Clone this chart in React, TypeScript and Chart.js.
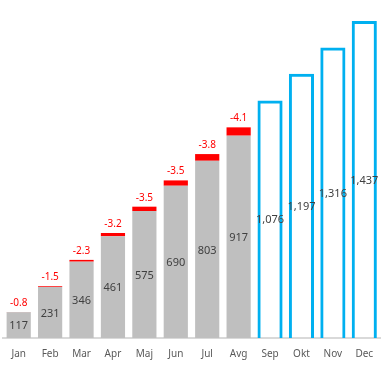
import React, { useEffect, useRef } from "react";
import { Chart, registerables } from "chart.js";

Chart.register(...registerables);

const categories = ["Jan", "Feb", "Mar", "Apr", "Maj", "Jun", "Jul", "Avg", "Sep", "Okt", "Nov", "Dec"];
const actualValues = [117, 231, 346, 461, 575, 690, 803, 917, null, null, null, null];
const variancePct = [-0.8, -1.5, -2.3, -3.2, -3.5, -3.5, -3.8, -4.1, null, null, null, null];
const forecastValues = [null, null, null, null, null, null, null, null, 1076, 1197, 1316, 1437];

const fmt = (v: number) => v.toLocaleString("en-US");

const labelPlugin = {
  id: "labels",
  afterDatasetsDraw(chart: any) {
    const ctx = chart.ctx;
    const g = chart.getDatasetMeta(0);
    const r = chart.getDatasetMeta(1);
    const b = chart.getDatasetMeta(2);
    ctx.save();
    ctx.textAlign = "center";
    ctx.textBaseline = "middle";
    categories.forEach((_, i) => {
      const a = actualValues[i];
      if (a != null) {
        const el = g.data[i];
        ctx.fillStyle = "#404040";
        ctx.font = "11px 'Noto Sans'";
        ctx.fillText(fmt(a), el.x, (el.y + el.base) / 2 + 1);
        const re = r.data[i];
        ctx.fillStyle = "#FF0000";
        ctx.font = "10px 'Noto Sans'";
        ctx.fillText(String(variancePct[i]), re.x, re.y - 9);
      }
      const f = forecastValues[i];
      if (f != null) {
        const el = b.data[i];
        ctx.fillStyle = "#404040";
        ctx.font = "11px 'Noto Sans'";
        ctx.fillText(fmt(f), el.x, (el.y + el.base) / 2 + 1);
      }
    });
    ctx.restore();
  },
};

export default function App() {
  const ref = useRef<HTMLCanvasElement>(null);
  useEffect(() => {
    const capValues = actualValues.map((v, i) =>
      v != null && variancePct[i] != null ? (v * Math.abs(variancePct[i] as number)) / 100 : null
    );
    const chart = new Chart(ref.current!, {
      type: "bar",
      data: {
        labels: categories,
        datasets: [
          {
            data: actualValues as any,
            backgroundColor: "#BFBFBF",
            stack: "s",
            barPercentage: 0.77,
            categoryPercentage: 1,
          },
          {
            data: capValues as any,
            backgroundColor: "#FF0000",
            stack: "s",
            barPercentage: 0.77,
            categoryPercentage: 1,
          },
          {
            data: forecastValues as any,
            backgroundColor: "rgba(255,255,255,0)",
            borderColor: "#00B0F0",
            borderWidth: 3,
            stack: "s",
            barPercentage: 0.8,
            categoryPercentage: 1,
          },
        ],
      },
      options: {
        responsive: false,
        animation: false,
        layout: { padding: { left: 3, right: 8, top: 7, bottom: 0 } },
        plugins: { legend: { display: false }, tooltip: { enabled: false } },
        scales: {
          x: {
            stacked: true,
            grid: { display: false, drawTicks: false },
            border: { display: true, color: "#D9D9D9", width: 2 },
            ticks: { color: "#595959", font: { size: 10, family: "'Noto Sans'" }, padding: 10 },
          },
          y: {
            stacked: true,
            display: false,
            min: 0,
            max: 1500,
          },
        },
      },
      plugins: [labelPlugin],
    });
    return () => chart.destroy();
  }, []);
  return (
    <div style={{ position: "absolute", left: 0, top: 0, width: 388, height: 370, background: "#fff" }}>
      <canvas ref={ref} width={388} height={370} />
    </div>
  );
}
